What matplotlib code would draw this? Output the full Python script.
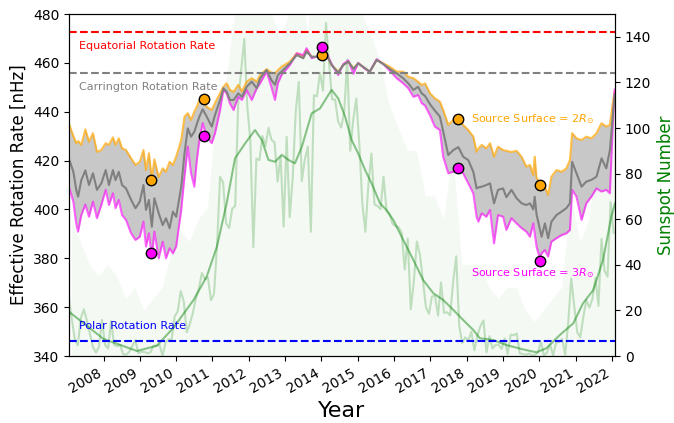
import numpy as np
import matplotlib
matplotlib.use('Agg')
import matplotlib.pyplot as plt

# effective rotation rate from the PFSS models (nHz), sampled along the cycle
years = [2007.06, 2007.17, 2007.25, 2007.30, 2007.39, 2007.50, 2007.60, 2007.71, 2007.82, 2007.94,
         2008.06, 2008.15, 2008.26, 2008.33, 2008.42, 2008.51, 2008.62, 2008.76, 2008.88, 2009.00,
         2009.10, 2009.17, 2009.25, 2009.33, 2009.40, 2009.52, 2009.63, 2009.72, 2009.82, 2009.91,
         2010.00, 2010.14, 2010.23, 2010.32, 2010.41, 2010.50, 2010.57, 2010.64, 2010.73, 2010.84,
         2010.98, 2011.07, 2011.21, 2011.30, 2011.39, 2011.48, 2011.58, 2011.71, 2011.81, 2011.94,
         2012.08, 2012.22, 2012.31, 2012.49, 2012.62, 2012.72, 2012.80, 2012.90, 2013.13, 2013.32,
         2013.50, 2013.59, 2013.73, 2013.96, 2014.14, 2014.28, 2014.46, 2014.60, 2014.74, 2014.88,
         2015.01, 2015.20, 2015.33, 2015.52, 2015.70, 2015.88, 2016.07, 2016.25, 2016.39, 2016.53,
         2016.66, 2016.76, 2016.85, 2016.99, 2017.12, 2017.26, 2017.35, 2017.49, 2017.63, 2017.77,
         2017.90, 2018.04, 2018.18, 2018.27, 2018.32, 2018.41, 2018.54, 2018.64, 2018.75, 2018.86,
         2019.00, 2019.09, 2019.23, 2019.37, 2019.51, 2019.64, 2019.74, 2019.83, 2019.87, 2019.92,
         2020.01, 2020.06, 2020.15, 2020.24, 2020.33, 2020.47, 2020.61, 2020.74, 2020.84, 2020.90,
         2021.02, 2021.16, 2021.29, 2021.43, 2021.57, 2021.71, 2021.84, 2021.94, 2022.03, 2022.07]

rate_2rs = [434.6, 430.0, 427.1, 428.0, 426.4, 432.8, 427.7, 431.2, 423.6, 424.3,
            427.1, 426.4, 429.5, 426.4, 429.1, 425.0, 424.3, 420.9, 418.2, 419.5,
            424.3, 416.1, 423.0, 412.5, 420.5, 413.2, 416.8, 415.4, 419.5, 418.2,
            421.6, 428.4, 438.0, 439.4, 436.6, 440.0, 442.0, 444.8, 445.0, 442.0,
            440.7, 443.6, 447.6, 450.2, 451.6, 448.9, 448.1, 451.0, 448.2, 452.3,
            453.7, 452.3, 455.0, 457.4, 456.0, 455.7, 457.0, 458.4, 460.5, 463.9,
            462.5, 465.3, 462.5, 462.5, 463.2, 459.1, 456.4, 459.1, 460.5, 457.8,
            459.8, 457.8, 456.4, 461.2, 459.8, 458.4, 456.4, 456.4, 454.3, 453.7,
            452.3, 450.9, 451.6, 447.5, 445.5, 444.1, 440.7, 434.6, 436.6, 437.0,
            434.6, 432.5, 429.8, 423.6, 425.0, 426.4, 425.0, 427.1, 421.6, 425.7,
            424.3, 424.0, 423.5, 424.0, 421.5, 417.5, 418.2, 414.1, 421.6, 413.0,
            411.0, 410.5, 409.3, 405.9, 413.4, 416.1, 415.4, 416.8, 420.2, 431.2,
            429.1, 428.4, 429.8, 429.1, 431.2, 435.3, 433.9, 434.6, 444.8, 448.0]

rate_mid = [420.2, 415.4, 408.0, 405.2, 412.0, 416.0, 410.0, 414.8, 408.0, 410.7,
            416.1, 410.0, 416.1, 412.0, 415.4, 410.0, 408.6, 403.9, 400.5, 403.2,
            410.0, 399.8, 403.9, 392.9, 404.6, 398.4, 393.6, 396.4, 392.3, 399.1,
            397.0, 409.3, 423.0, 433.2, 429.8, 431.8, 435.0, 438.0, 441.0, 438.0,
            433.9, 438.7, 444.8, 449.6, 448.2, 444.8, 444.8, 447.5, 446.1, 450.2,
            452.3, 449.6, 453.7, 457.1, 453.0, 451.0, 455.0, 456.4, 459.8, 463.2,
            461.9, 464.6, 462.5, 462.5, 463.5, 459.1, 456.0, 459.1, 460.5, 457.5,
            459.8, 457.8, 456.4, 461.2, 459.5, 457.5, 455.7, 453.7, 451.6, 448.9,
            450.2, 447.5, 446.5, 443.0, 440.5, 438.0, 432.0, 422.3, 424.3, 425.5,
            421.6, 420.2, 415.4, 408.6, 409.0, 409.3, 410.0, 410.7, 402.5, 408.0,
            408.6, 405.0, 408.0, 404.6, 402.5, 401.8, 402.5, 400.0, 405.2, 398.0,
            392.0, 388.8, 394.3, 388.2, 395.0, 397.7, 399.1, 400.5, 402.5, 419.5,
            414.8, 409.3, 411.4, 412.1, 413.4, 420.9, 416.8, 424.3, 440.0, 447.0]

rate_3rs = [408.6, 403.2, 394.0, 390.9, 397.7, 402.0, 397.0, 403.2, 396.4, 401.8,
            408.0, 401.8, 406.6, 400.5, 403.9, 397.7, 395.7, 390.2, 387.5, 388.8,
            395.0, 384.8, 390.2, 380.5, 390.9, 380.0, 386.8, 380.0, 384.1, 382.0,
            384.8, 399.8, 413.4, 425.7, 414.8, 409.3, 420.2, 428.4, 435.3, 429.8,
            427.1, 431.2, 440.7, 448.9, 447.5, 443.4, 440.7, 446.1, 444.8, 448.9,
            444.8, 449.6, 451.6, 456.4, 450.2, 444.8, 451.6, 455.0, 459.1, 463.9,
            463.2, 466.0, 461.9, 463.0, 464.0, 459.5, 455.0, 459.5, 461.0, 455.5,
            460.0, 457.5, 456.4, 461.5, 459.5, 456.8, 453.7, 451.6, 449.6, 446.1,
            446.8, 443.5, 442.5, 438.5, 433.9, 432.5, 421.6, 414.8, 415.4, 416.5,
            414.8, 410.7, 406.6, 397.0, 395.0, 398.4, 397.0, 399.8, 386.1, 397.7,
            397.0, 391.6, 396.4, 394.3, 392.3, 390.9, 388.8, 394.3, 390.0, 384.8,
            380.0, 382.0, 383.4, 380.7, 386.8, 388.2, 389.5, 390.2, 391.6, 408.0,
            405.2, 395.7, 402.5, 405.2, 408.6, 407.3, 408.0, 406.6, 438.0, 449.0]

# highlighted epochs
mark_years = [2009.31, 2010.77, 2014.02, 2017.76, 2020.01]
mark_2rs = [412.0, 445.2, 463.2, 437.0, 410.0]
mark_3rs = [382.0, 430.0, 466.5, 417.0, 379.0]

# reference rotation rates (nHz)
equatorial_rate = 472.6
carrington_rate = 456.0
polar_rate = 346.3

# monthly mean sunspot number, Jan 2007 - Jan 2022
ssn_monthly = [26.9, 16.3, 7.6, 4.7, 16.6, 20.5, 15.6, 9.8, 4.0, 1.5, 4.0, 15.8,
               4.9, 3.3, 15.3, 4.9, 4.3, 4.8, 0.8, 0.6, 1.8, 4.4, 6.9, 1.2,
               1.9, 1.8, 1.2, 1.6, 4.5, 4.5, 5.0, 0.0, 6.0, 7.3, 7.2, 17.4,
               19.5, 28.5, 24.0, 10.4, 13.9, 18.8, 25.2, 29.6, 36.4, 33.6, 34.4, 24.5,
               27.3, 48.3, 78.6, 76.1, 58.2, 56.1, 64.5, 65.8, 111.2, 125.7, 139.1, 109.3,
               94.4, 47.8, 86.6, 85.9, 96.5, 92.0, 100.1, 94.8, 93.7, 76.5, 87.6, 56.8,
               96.1, 60.9, 78.3, 107.3, 120.2, 76.7, 86.2, 91.8, 54.5, 114.4, 113.9, 124.2,
               116.4, 146.1, 128.7, 112.5, 112.5, 102.9, 100.2, 106.9, 130.0, 90.0, 103.6, 112.9,
               93.0, 66.7, 54.5, 75.3, 88.8, 66.5, 65.8, 64.4, 78.6, 63.6, 62.2, 58.0,
               57.0, 56.4, 54.1, 37.9, 51.5, 20.5, 32.4, 50.2, 44.6, 33.4, 21.4, 18.5,
               26.1, 26.4, 17.7, 32.3, 18.9, 19.2, 17.8, 32.6, 43.7, 13.2, 5.7, 8.2,
               6.8, 10.7, 2.5, 8.9, 13.1, 15.6, 1.6, 8.7, 3.3, 4.9, 4.9, 3.1,
               7.7, 0.8, 9.4, 9.1, 9.9, 1.2, 0.9, 0.5, 1.1, 0.4, 0.5, 1.5,
               6.2, 0.2, 1.5, 5.2, 0.2, 5.8, 6.1, 7.5, 0.6, 14.4, 34.0, 21.8,
               10.4, 8.2, 17.2, 24.5, 21.2, 25.0, 34.3, 22.0, 51.3, 37.4, 34.8, 67.5,
               54.0]
ssn_months = 2007 + (np.arange(len(ssn_monthly)) + 0.5) / 12

# smoothed sunspot number
smooth_years = [2007.05, 2008.00, 2008.92, 2009.47, 2009.93, 2010.48, 2010.84, 2011.12, 2011.39, 2011.62,
                2011.90, 2012.17, 2012.36, 2012.54, 2012.72, 2012.91, 2013.09, 2013.27, 2013.46, 2013.73,
                2013.96, 2014.19, 2014.28, 2014.46, 2014.65, 2014.83, 2015.01, 2015.20, 2015.38, 2015.61,
                2015.79, 2015.98, 2016.25, 2016.53, 2016.80, 2017.08, 2017.35, 2017.63, 2017.90, 2018.18,
                2018.36, 2018.73, 2019.09, 2019.55, 2019.92, 2020.19, 2020.56, 2020.93, 2021.20, 2021.48,
                2021.75, 2021.98, 2022.08]
smooth_ssn = [19.4, 7.5, 2.2, 4.5, 12.5, 24.6, 34.8, 47.9, 67.0, 86.7,
              93.3, 99.1, 94.7, 86.0, 85.2, 88.2, 86.0, 84.5, 91.8, 106.4,
              108.6, 114.5, 116.7, 113.0, 105.0, 94.7, 88.9, 81.6, 75.7, 67.0,
              64.0, 59.6, 50.9, 42.1, 33.3, 27.5, 24.6, 20.2, 15.8, 11.4,
              7.8, 7.0, 4.8, 2.9, 1.6, 3.4, 9.2, 14.3, 23.1, 28.9,
              42.1, 61.1, 67.0]

# upper envelope of the daily sunspot number, per quarter
daily_quarters = 2007 + np.arange(61) * 0.25 + 0.125
daily_peak = [60, 50, 40, 35, 40, 35, 25, 30, 20, 25, 30, 45,
              55, 50, 60, 65, 110, 120, 150, 200, 160, 180, 150, 140,
              150, 180, 140, 200, 220, 200, 180, 200, 150, 140, 130, 110,
              100, 90, 90, 70, 70, 60, 90, 40, 40, 40, 30, 25,
              30, 30, 20, 15, 20, 25, 30, 70, 50, 60, 90, 100, 110]

fig, ax = plt.subplots(figsize=(6.74, 4.23), dpi=100)
fig.subplots_adjust(left=69/674, right=615/674, top=1-14/423, bottom=1-356/423)

ax2 = ax.twinx()
ax.set_zorder(ax2.get_zorder() + 1)
ax.patch.set_visible(False)

# sunspot numbers on the right axis
ax2.fill_between(daily_quarters, 0, daily_peak, color='green', alpha=0.045, lw=0)
ax2.plot(ssn_months, ssn_monthly, color='green', alpha=0.22, lw=1.5)
ax2.plot(smooth_years, smooth_ssn, color='green', alpha=0.45, lw=1.5)
ax2.set_ylim(0, 150)
ax2.set_ylabel('Sunspot Number', color='green', fontsize=12)
ax2.tick_params(labelsize=10)

# rotation rate band
ax.fill_between(years, rate_3rs, rate_2rs, color='#c8c8c8', lw=0)
ax.plot(years, rate_2rs, color='orange', alpha=0.7, lw=1.5)
ax.plot(years, rate_3rs, color='magenta', alpha=0.6, lw=1.5)
ax.plot(years, rate_mid, color='gray', lw=1.5)

ax.plot(mark_years, mark_2rs, 'o', color='orange', mec='black', ms=7.5, zorder=5)
ax.plot(mark_years, mark_3rs, 'o', color='magenta', mec='black', ms=7.5, zorder=5)

ax.axhline(equatorial_rate, color='red', ls='--', lw=1.5)
ax.axhline(carrington_rate, color='gray', ls='--', lw=1.5)
ax.axhline(polar_rate, color='blue', ls='--', lw=1.5)

ax.text(2007.33, 466.9, 'Equatorial Rotation Rate', color='red', fontsize=8, va='center')
ax.text(2007.33, 450.1, 'Carrington Rotation Rate', color='gray', fontsize=8, va='center')
ax.text(2007.33, 352.3, 'Polar Rotation Rate', color='blue', fontsize=8, va='center')
ax.text(2018.12, 437.0, r'Source Surface = $2R_{\odot}$', color='orange', fontsize=8, va='center')
ax.text(2018.12, 374.0, r'Source Surface = $3R_{\odot}$', color='magenta', fontsize=8, va='center')

ax.set_xlim(2007.05, 2022.08)
ax.set_ylim(340, 480)
ax.set_xticks(range(2008, 2023))
ax.set_xticklabels([str(y) for y in range(2008, 2023)], rotation=30, ha='right')
ax.tick_params(labelsize=10)
ax.set_xlabel('Year', fontsize=16)
ax.set_ylabel('Effective Rotation Rate [nHz]', fontsize=12)

fig.savefig('out.png', dpi=100)
